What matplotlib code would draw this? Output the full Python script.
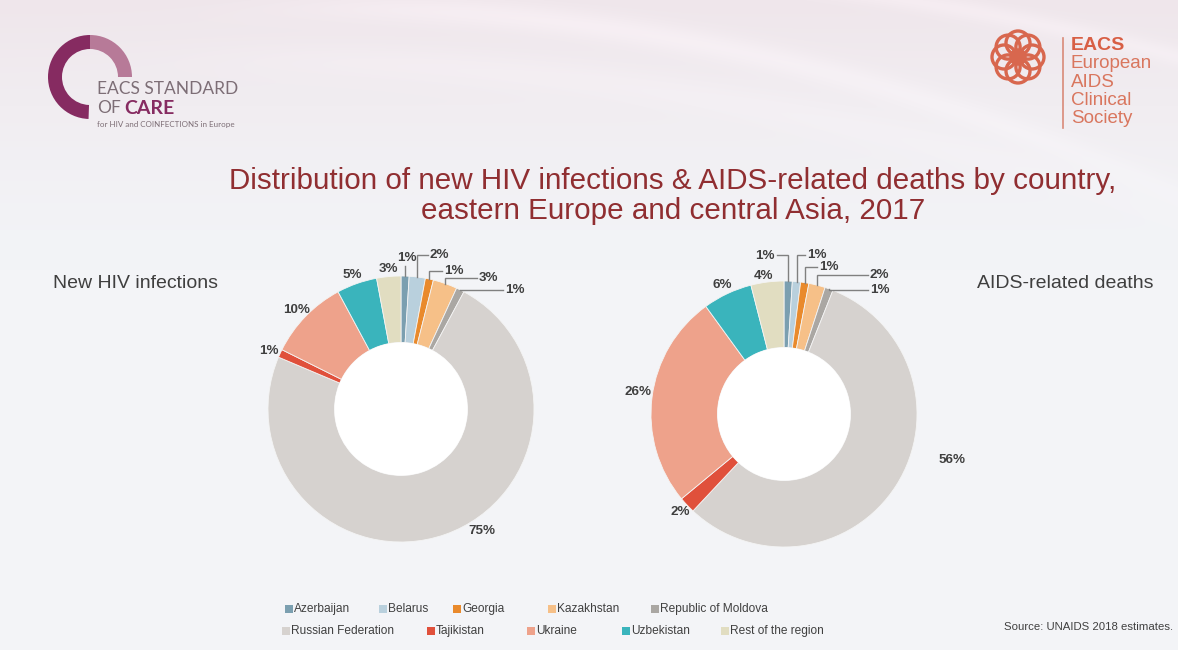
import numpy as np
import matplotlib
matplotlib.use("Agg")
import matplotlib.pyplot as plt
from matplotlib.patches import Wedge, Circle, Rectangle

# ---- data -------------------------------------------------------------
countries = ["Azerbaijan", "Belarus", "Georgia", "Kazakhstan", "Republic of Moldova",
             "Russian Federation", "Tajikistan", "Ukraine", "Uzbekistan", "Rest of the region"]
new_infections = [1, 2, 1, 3, 1, 75, 1, 10, 5, 3]
aids_deaths = [1, 1, 1, 2, 1, 56, 2, 26, 6, 4]

colors = ["#7b9fb0", "#b9d0dd", "#e98a2c", "#f6c088", "#aaa7a3",
          "#d6d2cf", "#e0503b", "#eea28b", "#3ab4bc", "#e1ddc1"]

title_lines = ["Distribution of new HIV infections & AIDS-related deaths by country,",
               "eastern Europe and central Asia, 2017"]

# ---- canvas -----------------------------------------------------------
W, H = 1178, 650
R_PX = 133          # outer radius of each ring in pixels
FONT = "Liberation Sans"
plt.rcParams["font.family"] = [FONT, "DejaVu Sans"]

fig = plt.figure(figsize=(W / 100, H / 100), dpi=100)
bg = fig.add_axes([0, 0, 1, 1], zorder=0)
bg.set_xlim(0, W)
bg.set_ylim(H, 0)
bg.axis("off")

# soft background: pale pink at the top fading to light grey, with faint swooshes
yy, xx = np.mgrid[0:H, 0:W].astype(float)
base = np.array([243, 244, 247]) / 255
pink = np.array([239, 230, 235]) / 255
t = np.clip(1 - yy / 270, 0, 1) ** 1.4
img = base * (1 - t[..., None]) + pink * t[..., None]
for a, b, c, width, amp in [(8, 0.00026, 330, 14, 0.03), (-30, 0.00020, 520, 10, 0.025),
                            (60, 0.00018, 250, 18, 0.018)]:
    curve = a + b * (xx - c) ** 2
    fade_x = 1 / (1 + np.exp(-(xx - c) / 60))
    fade_y = np.clip(1 - yy / 260, 0, 1)
    glow = amp * np.exp(-((yy - curve) / width) ** 2) * fade_x * fade_y
    img = np.clip(img + glow[..., None], 0, 1)
bg.imshow(img, extent=(0, W, H, 0), aspect="auto", zorder=0)

# ---- left logo ----------------------------------------------------------
lc = (90, 77)
bg.add_patch(Wedge(lc, 42, -90, 0, width=14, facecolor="#b77a98", edgecolor="none", zorder=2))
bg.add_patch(Wedge(lc, 42, -268, -90, width=14, facecolor="#862b61", edgecolor="none", zorder=2))
bg.text(97, 89, "EACS STANDARD", fontsize=12.5, color="#7d6e76", family="Lato",
        ha="left", va="center", zorder=3)
bg.text(97, 108, "OF", fontsize=12.5, color="#7d6e76", family="Lato",
        ha="left", va="center", zorder=3)
bg.text(124, 108, "CARE", fontsize=14, color="#862b61", family="Lato", weight="bold",
        ha="left", va="center", zorder=3)
bg.text(97, 125, "for HIV and COINFECTIONS in Europe", fontsize=5.8, color="#7d6e76",
        family="Lato", ha="left", va="center", zorder=3)

# ---- right logo ---------------------------------------------------------
kc = np.array([1018, 57])
knot_col = "#d8674e"
for ang in np.arange(0, 360, 45):
    off = 14 * np.array([np.cos(np.deg2rad(ang)), np.sin(np.deg2rad(ang))])
    bg.add_patch(Circle(kc + off, 12, facecolor="none", edgecolor=knot_col, lw=2.4, zorder=2))
bg.add_patch(Circle(kc, 7, facecolor="none", edgecolor=knot_col, lw=2.4, zorder=2))
bg.plot([1063, 1063], [38, 128], color="#d98a78", lw=1.2, zorder=2)
bg.text(1071, 46, "EACS", fontsize=14, weight="bold", color="#d85f45", ha="left",
        va="center", zorder=3)
for i, word in enumerate(["European", "AIDS", "Clinical", "Society"]):
    bg.text(1071, 64 + i * 18.3, word, fontsize=13.5, color="#d9765e", ha="left",
            va="center", zorder=3)

# ---- titles -------------------------------------------------------------
for i, line in enumerate(title_lines):
    bg.text(673, 181 + i * 30, line, fontsize=21.3, color="#902e31", ha="center",
            va="center", zorder=3)
bg.text(53, 284, "New HIV infections", fontsize=14, color="#3f3f3f", ha="left",
        va="center", zorder=3)
bg.text(977, 284, "AIDS-related deaths", fontsize=14, color="#3f3f3f", ha="left",
        va="center", zorder=3)
bg.text(1173, 627, "Source: UNAIDS 2018 estimates.", fontsize=8.2, color="#404040",
        ha="right", va="center", zorder=3)

# ---- donuts -------------------------------------------------------------
left_layout = [(407, 258, "center", (None, 266)),
               (430, 255, "left", (428, 255)),
               (444, 271, "left", (442, 271)),
               (479, 278, "left", (477, 278)),
               (505, 290, "left", (503, 290)),
               (482, 531, "center", None),
               (269, 351, "center", None),
               (297, 310, "center", None),
               (352, 275, "center", None),
               (388, 269, "center", None)]

right_layout = [(775, 256, "right", (777, 255)),
                (807, 255, "left", (805, 255)),
                (819, 267, "left", (817, 267)),
                (870, 275, "left", (868, 275)),
                (870, 290, "left", (868, 290)),
                (952, 460, "center", None),
                (680, 512, "center", None),
                (638, 392, "center", None),
                (722, 285, "center", None),
                (763, 276, "center", None)]


def donut(cx, cy, values, layout):
    half = 215
    ax = fig.add_axes([(cx - half) / W, (H - cy - half) / H, 2 * half / W, 2 * half / H],
                      zorder=1)
    wedges, _ = ax.pie(values, colors=colors, startangle=90, counterclock=False, radius=1,
                       wedgeprops=dict(width=0.5, edgecolor="#f4f4f4", linewidth=0.6))
    ax.add_patch(Circle((0, 0), 0.5, facecolor="white", edgecolor="none"))
    lim = half / R_PX
    ax.set_xlim(-lim, lim)
    ax.set_ylim(-lim, lim)
    ax.axis("off")

    def to_data(px, py):
        return (px - cx) / R_PX, (cy - py) / R_PX

    for w, v, (tx, ty, ha, end) in zip(wedges, values, layout):
        lx, ly = to_data(tx, ty)
        ax.text(lx, ly, f"{v}%", ha=ha, va="center", fontsize=9.6, weight="bold",
                color="#3f3f3f", clip_on=False)
        if end is not None:
            mid = np.deg2rad(0.5 * (w.theta1 + w.theta2))
            x0, y0 = np.cos(mid), np.sin(mid)
            ex, ey = end
            eyd = (cy - ey) / R_PX
            if ex is None:
                xs, ys = [x0, x0], [y0, eyd]
            else:
                exd = (ex - cx) / R_PX
                xs, ys = [x0, x0, exd], [y0, eyd, eyd]
            ax.plot(xs, ys, color="#808080", lw=1, clip_on=False, solid_joinstyle="miter")
    return ax


donut(401, 409, new_infections, left_layout)
donut(784, 414, aids_deaths, right_layout)

# ---- legend -------------------------------------------------------------
legend_pos = [(285, 609), (379, 609), (453, 609), (548, 609), (651, 609),
              (282, 631), (427, 631), (527, 631), (622, 631), (721, 631)]
for name, col, (lx, ly) in zip(countries, colors, legend_pos):
    bg.add_patch(Rectangle((lx, ly - 4), 7.5, 7.5, facecolor=col, edgecolor="none", zorder=3))
    bg.text(lx + 9, ly, name, fontsize=8.6, color="#404040", ha="left", va="center",
            zorder=3)

fig.savefig("out.png", dpi=100, facecolor=fig.get_facecolor())
